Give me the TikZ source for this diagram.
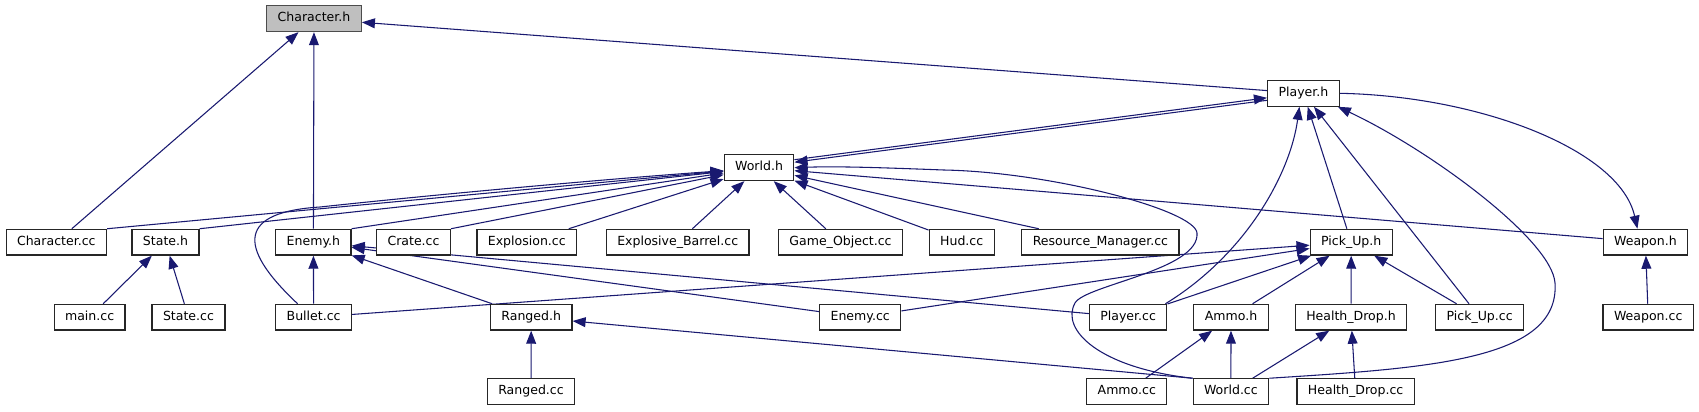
\documentclass[tikz,border=0pt]{standalone}
\usepackage{fontspec}
\setmainfont{DejaVu Sans}
\usetikzlibrary{arrows.meta,calc}
\definecolor{edgeblue}{HTML}{191970}
\pgfdeclarelayer{bg}
\pgfdeclarelayer{edges}
\pgfsetlayers{bg,edges,main}
\tikzset{
  file/.style={draw=black!85, line width=0.9pt, fill=white,
    font=\fontsize{9.4pt}{11pt}\selectfont, inner xsep=8.2pt, inner ysep=0pt,
    minimum height=19.3pt, text height=7pt, text depth=2.1pt},
  rootfile/.style={file, fill=black!25, draw=black!70},
  dep/.style={draw=edgeblue, line width=0.8pt, -{Triangle[length=9.8pt,width=7.4pt]}},
}
\begin{document}
\begin{tikzpicture}[x=0.75pt, y=-0.75pt]
\begin{pgfonlayer}{bg}
\path[use as bounding box, fill=white] (0,0) rectangle (1699,411);
\end{pgfonlayer}
% rank 0-2
\node[rootfile] (charh) at (314,18.7) {Character.h};
\node[file] (playerh) at (1303.4,93.3) {Player.h};
\node[file] (worldh) at (759,167.7) {World.h};
% rank 3
\node[file] (charcc) at (56.3,242.2) {Character.cc};
\node[file] (stateh) at (165.5,242.2) {State.h};
\node[file] (enemyh) at (313.4,242.2) {Enemy.h};
\node[file] (cratecc) at (413.5,242.2) {Crate.cc};
\node[file] (explcc) at (526.8,242.2) {Explosion.cc};
\node[file] (expbcc) at (677.7,242.2) {Explosive\_Barrel.cc};
\node[file] (gocc) at (840.5,242.2) {Game\_Object.cc};
\node[file] (hudcc) at (961.7,242.2) {Hud.cc};
\node[file] (rmcc) at (1100.4,242.2) {Resource\_Manager.cc};
\node[file] (pickuph) at (1351.2,242.2) {Pick\_Up.h};
\node[file] (weaponh) at (1645.4,242.2) {Weapon.h};
% rank 4
\node[file] (maincc) at (89.6,317.2) {main.cc};
\node[file] (statecc) at (188.5,317.2) {State.cc};
\node[file] (bulletcc) at (313.6,317.2) {Bullet.cc};
\node[file] (rangedh) at (531.2,317.2) {Ranged.h};
\node[file] (enemycc) at (860.2,317.2) {Enemy.cc};
\node[file] (playercc) at (1128.1,317.2) {Player.cc};
\node[file] (ammoh) at (1231,317.2) {Ammo.h};
\node[file] (hdh) at (1351,317.2) {Health\_Drop.h};
\node[file] (pickupcc) at (1479.6,317.2) {Pick\_Up.cc};
\node[file] (weaponcc) at (1648.2,317.2) {Weapon.cc};
% rank 5
\node[file] (rangedcc) at (531,391.7) {Ranged.cc};
\node[file] (ammocc) at (1126.8,391.7) {Ammo.cc};
\node[file] (worldcc) at (1230.9,391.7) {World.cc};
\node[file] (hdcc) at (1355.6,391.7) {Health\_Drop.cc};

\begin{pgfonlayer}{edges}
% Character.h
\draw[dep] (charcc) -- (charh);
\draw[dep] (enemyh) -- (charh);
\draw[dep] (playerh) -- (charh);
% World.h <-> Player.h
\draw[dep] ($(worldh.east)+(0,-8)$) -- ($(playerh.west)+(0,4.5)$);
\draw[dep] ($(playerh.west)+(0,7)$) -- ($(worldh.east)+(0,-5.5)$);
% World.h
\draw[dep] (charcc.north east) -- (worldh);
\draw[dep] (stateh.north east) -- (worldh);
\draw[dep] (enemyh.north east) -- (worldh);
\draw[dep] (cratecc.north east) -- (worldh);
\draw[dep] (explcc) -- (worldh);
\draw[dep] (expbcc) -- (worldh);
\draw[dep] (gocc) -- (worldh);
\draw[dep] (hudcc) -- (worldh);
\draw[dep] (rmcc) -- (worldh);
\draw[dep] (weaponh) -- (worldh);
\draw[dep] ($(bulletcc.north)+(-16,0)$) .. controls (235,245) and (240,212) .. (320,207)
  .. controls (450,193) and (620,178) .. ($(worldh.west)+(0,3)$);
\draw[dep] (worldcc.north west) .. controls (1100,368) and (1060,330) .. (1075,303)
  .. controls (1085,285) and (1200,270) .. (1197,233)
  .. controls (1195,210) and (1050,172) .. (944,170)
  .. controls (890,168) and (840,166) .. (worldh.east);
% Player.h
\draw[dep] (worldcc.north east) .. controls (1430,368) and (1560,360) .. (1555,283)
  .. controls (1552,240) and (1430,150) .. ($(playerh.south east)+(-2,0)$);
\draw[dep] ($(playercc.north east)+(-2,0)$) .. controls (1245,255) and (1290,175) .. ($(playerh.south)+(-4,0)$);
\draw[dep] (pickuph) -- (playerh);
\draw[dep] (pickupcc) -- (playerh);
% Weapon.h
\draw[dep] (playerh.east) .. controls (1480,96) and (1620,150) .. ($(weaponh.north)+(-8,0)$);
\draw[dep] (weaponcc) -- (weaponh);
% State.h
\draw[dep] (maincc) -- (stateh);
\draw[dep] (statecc) -- (stateh);
% Enemy.h
\draw[dep] (bulletcc) -- (enemyh);
\draw[dep] (rangedh) -- (enemyh);
\draw[dep] (enemycc) -- (enemyh);
\draw[dep] (playercc) -- (enemyh);
% Ranged.h
\draw[dep] (rangedcc) -- (rangedh);
\draw[dep] (worldcc.north west) -- (rangedh);
% Pick_Up.h
\draw[dep] (bulletcc) -- (pickuph);
\draw[dep] (enemycc) -- (pickuph);
\draw[dep] (playercc) -- (pickuph);
\draw[dep] (ammoh) -- (pickuph);
\draw[dep] (hdh) -- (pickuph);
\draw[dep] (pickupcc) -- (pickuph);
% Ammo.h, Health_Drop.h
\draw[dep] (ammocc) -- (ammoh);
\draw[dep] (worldcc) -- (ammoh);
\draw[dep] (worldcc) -- (hdh);
\draw[dep] (hdcc) -- (hdh);
\end{pgfonlayer}
\end{tikzpicture}
\end{document}
